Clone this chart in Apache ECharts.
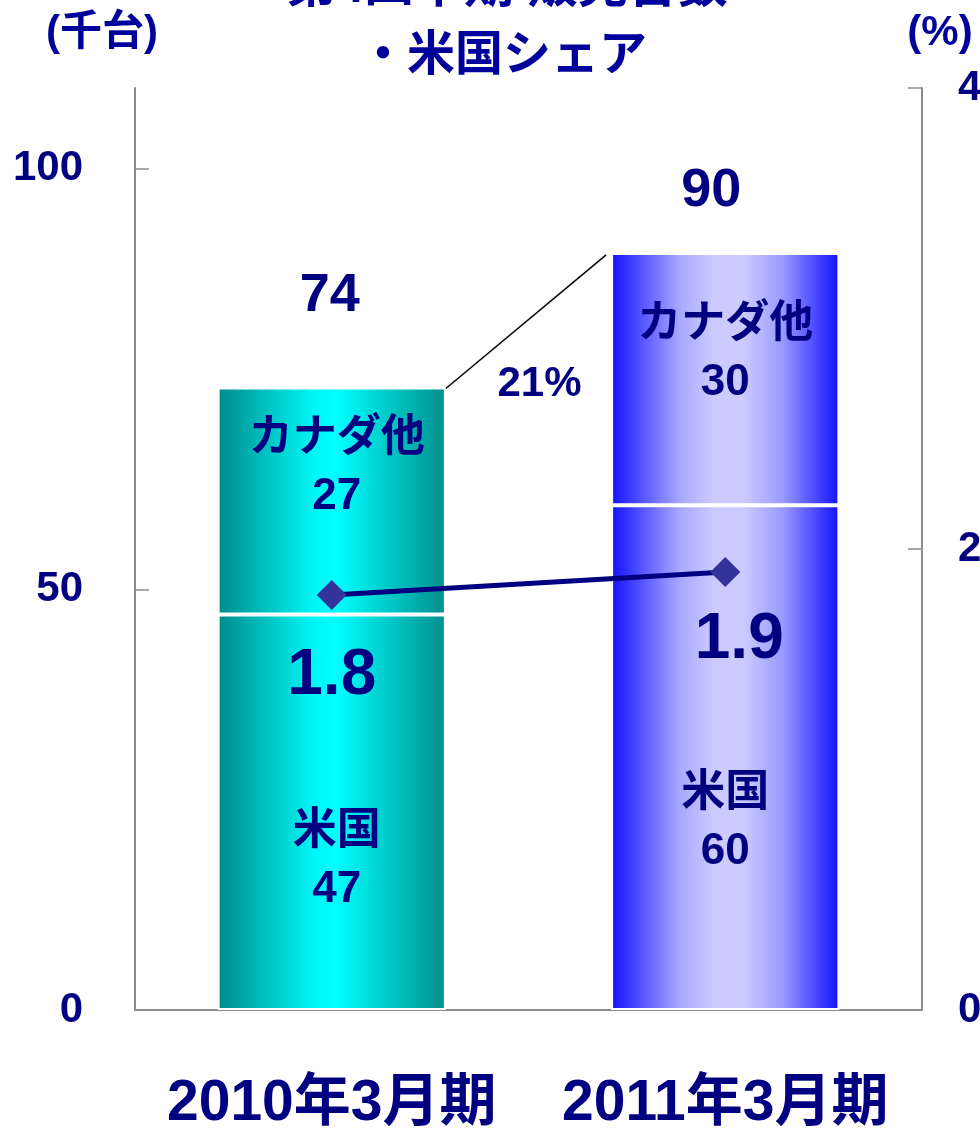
<!DOCTYPE html>
<html><head><meta charset="utf-8">
<script src="https://cdn.jsdelivr.net/npm/echarts@6/dist/echarts.min.js"></script>
<style>html,body{margin:0;padding:0;background:#fff}#c{width:980px;height:1128px}</style>
</head><body><div id="c"></div>
<script>
// ---- data ----
const categories = ['2010年3月期', '2011年3月期'];
const segmentNames = ['米国', 'カナダ他'];
const usUnits = [47, 60];
const canadaUnits = [27, 30];
const totalUnits = [74, 90];
const usShare = [1.8, 1.9];
const growthLabel = '21%';
const leftTickValues = [0, 50, 100];
const rightTickValues = [0, 2, 4];
const titleLines = ['第4四半期 販売台数', '・米国シェア'];
const unitLeft = '(千台)';
const unitRight = '(%)';

// ---- styles ----
const NAVY = '#000080';
const TITLE = '#00009a';
const FONT = "'Liberation Sans', 'Noto Sans CJK JP', sans-serif";
const grad = (stops) => new echarts.graphic.LinearGradient(0, 0, 1, 0, stops);
const fills = [
  () => grad([{offset:0,color:'#008b8b'},{offset:0.42,color:'#00f6f6'},{offset:0.52,color:'#00ffff'},{offset:1,color:'#008f8c'}]),
  () => grad([{offset:0,color:'#1010ff'},{offset:0.3,color:'#a8a8ff'},{offset:0.45,color:'#cbcbff'},{offset:0.58,color:'#cbcbff'},{offset:0.75,color:'#9a9aff'},{offset:1,color:'#1010ff'}])
];
const usLabelOffsets = [[5, 49], [0, 65]];
const caLabelOffsets = [[5, -33], [0, -25]];
const totalLabelOffsets = [[-2, -91], [-14, -62]];
const shareLabelOffsets = [[0, 81], [14, 68]];

const segRich = {
  t: {fontFamily: FONT, fontWeight: 'bold', fontSize: 44, color: NAVY, lineHeight: 58},
  n: {fontFamily: FONT, fontWeight: 'bold', fontSize: 44, color: NAVY, lineHeight: 58}
};
function segData(values, offsets, name) {
  return values.map((v, i) => ({
    value: v,
    itemStyle: {color: fills[i]()},
    label: {show: true, position: 'inside', offset: offsets[i],
      formatter: '{t|' + name + '}\n{n|' + v + '}', rich: segRich}
  }));
}

const chart = echarts.init(document.getElementById('c'), null, {renderer: 'canvas'});
const option = {
  animation: false,
  backgroundColor: '#fff',
  grid: {left: 135, right: 58, top: 88, bottom: 118, containLabel: false, outerBoundsMode: 'none'},
  xAxis: {
    type: 'category', data: categories,
    axisLine: {lineStyle: {color: '#8c8c8c', width: 2}},
    axisTick: {inside: true, length: 18, lineStyle: {color: '#8c8c8c', width: 1.5}},
    axisLabel: {interval: 0, hideOverlap: false, margin: 66, color: NAVY, fontFamily: FONT, fontWeight: 'bold', fontSize: 57}
  },
  yAxis: [{
    type: 'value', min: 0, max: 109.6, position: 'left',
    splitLine: {show: false},
    axisLine: {show: true, lineStyle: {color: '#8c8c8c', width: 2}},
    axisTick: {show: true, inside: true, length: 14, customValues: leftTickValues, lineStyle: {color: '#8c8c8c', width: 1.5}},
    axisLabel: {customValues: leftTickValues, margin: 52, color: NAVY, fontFamily: FONT, fontWeight: 'bold', fontSize: 42}
  }, {
    type: 'value', min: 0, max: 4, interval: 2, position: 'right',
    splitLine: {show: false},
    axisLine: {show: true, lineStyle: {color: '#8c8c8c', width: 2}},
    axisTick: {show: true, inside: true, length: 14, customValues: rightTickValues, lineStyle: {color: '#8c8c8c', width: 1.5}},
    axisLabel: {customValues: rightTickValues, margin: 36, color: NAVY, fontFamily: FONT, fontWeight: 'bold', fontSize: 42}
  }],
  series: [{
    name: segmentNames[0], type: 'bar', stack: 'units', barWidth: '58%',
    itemStyle: {borderColor: '#fff', borderWidth: 2},
    data: segData(usUnits, usLabelOffsets, segmentNames[0]), z: 2
  }, {
    name: segmentNames[1], type: 'bar', stack: 'units', barWidth: '58%',
    itemStyle: {borderColor: '#fff', borderWidth: 2},
    data: segData(canadaUnits, caLabelOffsets, segmentNames[1]), z: 2
  }, {
    name: 'total', type: 'scatter', symbolSize: 0, z: 3,
    itemStyle: {opacity: 1},
    data: totalUnits.map((v, i) => ({value: [categories[i], v],
      label: {show: true, position: 'inside', offset: totalLabelOffsets[i], formatter: String(v),
        fontFamily: FONT, fontWeight: 'bold', fontSize: 54, color: NAVY, opacity: 1}}))
  }, {
    name: 'share', type: 'line', yAxisIndex: 1, z: 5,
    symbol: 'diamond', symbolSize: 30,
    itemStyle: {color: '#333399'},
    lineStyle: {color: NAVY, width: 5},
    data: usShare.map((v, i) => ({value: v,
      label: {show: true, position: 'inside', offset: shareLabelOffsets[i], formatter: String(v),
        fontFamily: FONT, fontWeight: 'bold', fontSize: 64, color: NAVY}}))
  }]
};
chart.setOption(option);

// connector line and growth label, positioned through the axes
const p0 = chart.convertToPixel({gridIndex: 0}, [categories[0], totalUnits[0]]);
const p1 = chart.convertToPixel({gridIndex: 0}, [categories[1], totalUnits[1]]);
const half = (p1[0] - p0[0]) * 0.58 / 2;
chart.setOption({
  graphic: [
    {type: 'line', z: 10, shape: {x1: p0[0] + half, y1: p0[1] + 1, x2: p1[0] - half - 5, y2: p1[1] + 2},
      style: {stroke: '#000', lineWidth: 1.5}},
    {type: 'text', z: 10, x: (p0[0] + p1[0]) / 2 + 11, y: p0[1] - 3,
      style: {text: growthLabel, fill: NAVY, font: "bold 42px " + FONT, textAlign: 'center', textVerticalAlign: 'middle'}},
    {type: 'text', x: 507, y: -12,
      style: {text: titleLines[0], fill: TITLE, font: "bold 50px " + FONT, textAlign: 'center', textVerticalAlign: 'middle'}},
    {type: 'text', x: 503, y: 57,
      style: {text: titleLines[1], fill: TITLE, font: "bold 48px " + FONT, textAlign: 'center', textVerticalAlign: 'middle'}},
    {type: 'text', x: 102, y: 33,
      style: {text: unitLeft, fill: TITLE, font: "bold 42px " + FONT, textAlign: 'center', textVerticalAlign: 'middle'}},
    {type: 'text', x: 940, y: 33,
      style: {text: unitRight, fill: TITLE, font: "bold 42px " + FONT, textAlign: 'center', textVerticalAlign: 'middle'}}
  ]
});
</script>
</body></html>
